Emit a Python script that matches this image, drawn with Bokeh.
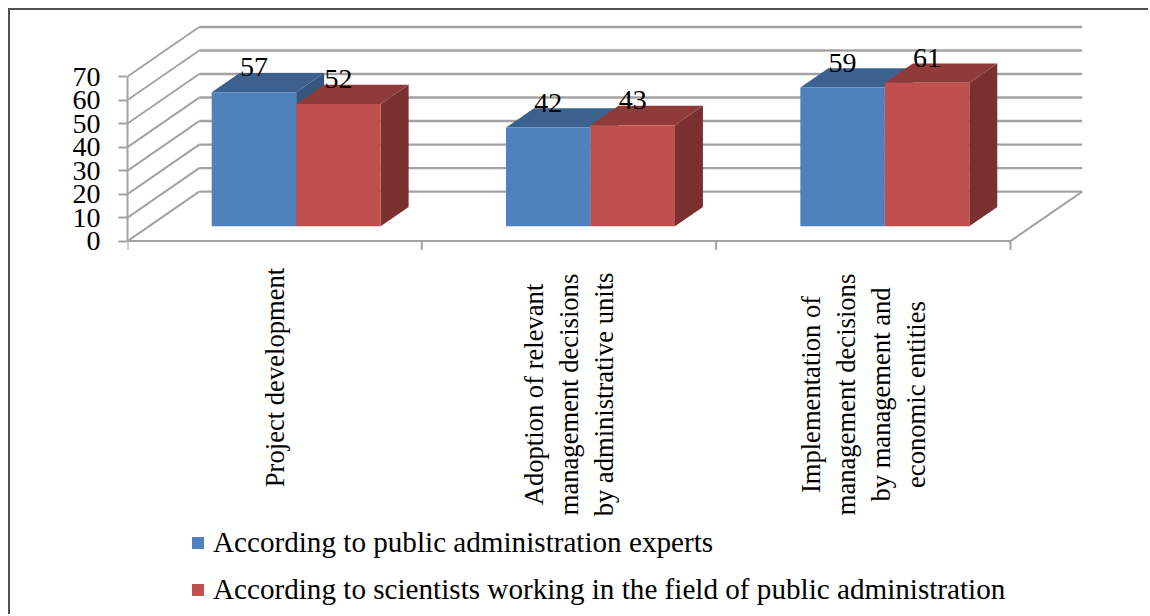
from math import pi
from bokeh.plotting import figure
from bokeh.models import (ColumnDataSource, FixedTicker, Legend, LegendItem, Range1d)
from bokeh.core.properties import value
from bokeh.embed import file_html
from bokeh.resources import INLINE

categories = ["Project development",
              "Adoption of relevant\nmanagement decisions\nby administrative units",
              "Implementation of\nmanagement decisions\nby management and\neconomic entities"]
experts = [57, 42, 59]
scientists = [52, 43, 61]
series_names = ["According to public administration experts",
                "According to scientists working in the field of public administration"]
y_ticks = [0, 10, 20, 30, 40, 50, 60, 70]

FONT = "Liberation Serif"
GRID = "#a3a3a3"
PX_X = 294.33          # px per category
PX_Y = 2.351           # px per value unit
DX = 71.7 / PX_X       # full depth in category units
DY = 49.5 / PX_Y       # full depth in value units
Z0, Z1 = 0.30, 0.69    # bar depth span
GAP = 0.213
BW = 0.287

p = figure(width=1140, height=606, output_backend="svg", toolbar_location=None,
           x_range=Range1d(0, (1150 - 127) / PX_X),
           y_range=Range1d((240.6 - 616) / PX_Y, (240.6 - 10) / PX_Y),
           x_axis_location=None, y_axis_location="left",
           min_border_left=117, min_border_right=0, min_border_top=0, min_border_bottom=0,
           outline_line_color=None)
p.styles = {"border-left": "2px solid #505050", "border-top": "2px solid #505050",
            "margin-left": "8px", "margin-top": "8px"}
p.xgrid.visible = False
p.ygrid.visible = False

ax = p.yaxis[0]
ax.ticker = FixedTicker(ticks=y_ticks)
ax.bounds = (0, 70)
ax.axis_line_color = GRID
ax.axis_line_width = 2
ax.major_tick_line_color = GRID
ax.major_tick_line_width = 2
ax.major_tick_out = 9
ax.major_tick_in = 0
ax.minor_tick_line_color = None
ax.major_label_standoff = 18
ax.major_label_text_font = FONT
ax.major_label_text_font_size = "28px"
ax.major_label_text_color = "black"

# walls and floor
xmax = float(len(categories))
wall_x = [[0, DX] for _ in y_ticks]
wall_y = [[v, v + DY] for v in y_ticks]
p.multi_line(wall_x, wall_y, line_color=GRID, line_width=2)
p.multi_line([[DX, xmax + DX] for _ in y_ticks], [[v + DY, v + DY] for v in y_ticks],
             line_color=GRID, line_width=2.4)
p.line([0, xmax, xmax + DX], [0, 0, DY], line_color=GRID, line_width=2)
p.segment(x0=list(range(len(categories) + 1)), y0=[0] * 4,
          x1=list(range(len(categories) + 1)), y1=[-9 / PX_Y] * 4,
          line_color=GRID, line_width=2)


def draw_series(vals, idx, front, top, side, name):
    lefts = [i + GAP + idx * BW + Z0 * DX for i in range(len(vals))]
    rights = [l + BW for l in lefts]
    base = Z0 * DY
    tops = [v + base for v in vals]
    dzx = (Z1 - Z0) * DX
    dzy = (Z1 - Z0) * DY
    p.patches([[r, r + dzx, r + dzx, r] for r in rights],
              [[base, base + dzy, t + dzy, t] for t in tops],
              fill_color=side, line_color=None)
    p.patches([[l, r, r + dzx, l + dzx] for l, r in zip(lefts, rights)],
              [[t, t, t + dzy, t + dzy] for t in tops],
              fill_color=top, line_color=None)
    r = p.quad(left=lefts, right=rights, bottom=[base] * len(vals), top=tops,
               fill_color=front, line_color=None)
    src = ColumnDataSource(dict(x=[(a + b) / 2 for a, b in zip(lefts, rights)],
                                y=tops, t=[str(v) for v in vals]))
    return r, src


r1, s1 = draw_series(experts, 0, "#4f81bd", "#3d618e", "#34567f", series_names[0])
r2, s2 = draw_series(scientists, 1, "#c0504d", "#8f3b39", "#7a302e", series_names[1])

for s in (s1, s2):
    p.text(x="x", y="y", text="t", source=s, text_font=value(FONT), text_font_size="28px",
           text_color="black", text_align="center", text_baseline="middle", y_offset=-25)

# category labels, rotated
label_y = [(240.6 - 377) / PX_Y, (240.6 - 394) / PX_Y, (240.6 - 394) / PX_Y]
p.text(x=[i + 0.5 for i in range(len(categories))], y=label_y, text=categories,
       text_font=value(FONT), text_font_size="26.6px", text_color="black",
       text_align="center", text_baseline="middle", angle=pi / 2,
       text_line_height=1.16)

legend = Legend(items=[LegendItem(label=series_names[0], renderers=[r1]),
                       LegendItem(label=series_names[1], renderers=[r2])],
                location=(63, 10), orientation="vertical",
                background_fill_alpha=0, border_line_color=None,
                glyph_width=15, glyph_height=15, spacing=14, padding=0, margin=0,
                label_standoff=8, label_text_font=FONT, label_text_font_size="29.15px",
                label_text_color="black")
p.add_layout(legend, "center")

open("out.html", "w").write(file_html(p, INLINE))
